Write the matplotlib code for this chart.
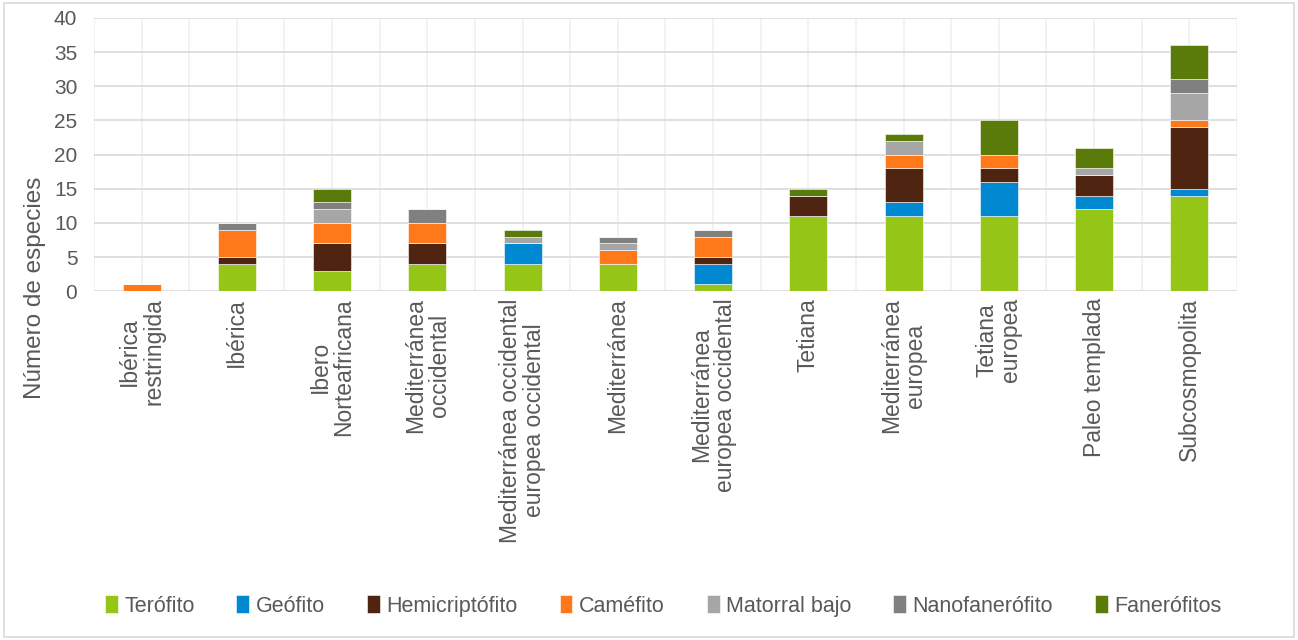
import numpy as np
import matplotlib.pyplot as plt
from matplotlib.patches import Rectangle

# ---------------------------------------------------------------------
# Data (species counts per chorological group and life form)
# ---------------------------------------------------------------------
categories = [
    "Ibérica\nrestringida", "Ibérica", "Ibero\nNorteafricana",
    "Mediterránea\noccidental", "Mediterránea occidental\neuropea occidental",
    "Mediterránea", "Mediterránea\neuropea occidental", "Tetiana",
    "Mediterránea\neuropea", "Tetiana\neuropea", "Paleo templada",
    "Subcosmopolita",
]
terofito       = [0, 4, 3, 4, 4, 4, 1, 11, 11, 11, 12, 14]
geofito        = [0, 0, 0, 0, 3, 0, 3, 0, 2, 5, 2, 1]
hemicriptofito = [0, 1, 4, 3, 0, 0, 1, 3, 5, 2, 3, 9]
camefito       = [1, 4, 3, 3, 0, 2, 3, 0, 2, 2, 0, 1]
matorral_bajo  = [0, 0, 2, 0, 1, 1, 0, 0, 2, 0, 1, 4]
nanofanerofito = [0, 1, 1, 2, 0, 1, 1, 0, 0, 0, 0, 2]
fanerofitos    = [0, 0, 2, 0, 1, 0, 0, 1, 1, 5, 3, 5]

series = [
    ("Terófito", terofito, "#95C617"),
    ("Geófito", geofito, "#0088D1"),
    ("Hemicriptófito", hemicriptofito, "#4F2410"),
    ("Caméfito", camefito, "#FF7819"),
    ("Matorral bajo", matorral_bajo, "#A6A6A6"),
    ("Nanofanerófito", nanofanerofito, "#808080"),
    ("Fanerófitos", fanerofitos, "#5A7A0A"),
]

plt.rcParams['font.family'] = ['Liberation Sans', 'DejaVu Sans']
text_col = "#595959"

fig = plt.figure(figsize=(12.98, 6.4), dpi=100)
ax = fig.add_axes([0.0724, 0.545, 0.8806, 0.427])

x = np.arange(len(categories))
bottom = np.zeros(len(categories))
for name, vals, col in series:
    vals = np.array(vals, dtype=float)
    ax.bar(x, vals, width=0.4, bottom=bottom, color=col, label=name,
           edgecolor="white", linewidth=0.4, zorder=3)
    bottom += vals

ax.set_xlim(-0.5, len(categories) - 0.5)
ax.set_ylim(0, 40)
ax.set_yticks(range(0, 41, 5))
ax.set_xticks(x)
ax.set_xticklabels(categories, rotation=90, ha="center", va="top",
                   multialignment="center", fontsize=16.5, color=text_col,
                   linespacing=1.05)
ax.tick_params(axis="y", labelsize=15, colors=text_col, length=0, pad=12)
ax.tick_params(axis="x", length=0, pad=5)

# gridlines: horizontal at major ticks, vertical at centres and boundaries
for yv in range(0, 41, 5):
    ax.axhline(yv, color="#D9D9D9", linewidth=1.2, zorder=1)
for xv in np.arange(-0.5, len(categories), 0.5):
    ax.axvline(xv, color="#F0F0F0", linewidth=1.2, zorder=0)

for s in ax.spines.values():
    s.set_visible(False)

fig.text(0.027, 0.55, "Número de especies", rotation=90, ha="center",
         va="center", fontsize=17.5, color=text_col)

handles, labels = ax.get_legend_handles_labels()
fig.legend(handles, labels, loc="center", bbox_to_anchor=(0.511, 0.053),
           ncol=7, frameon=False, fontsize=15.5, labelcolor=text_col,
           handlelength=0.6, handleheight=0.9, handletextpad=0.3,
           columnspacing=1.95)

# outer chart border
fig.patches.append(Rectangle((0.003, 0.004), 0.994, 0.992, transform=fig.transFigure,
                             fill=False, edgecolor="#D9D9D9", linewidth=1.2))

fig.savefig("out.png", dpi=100)
